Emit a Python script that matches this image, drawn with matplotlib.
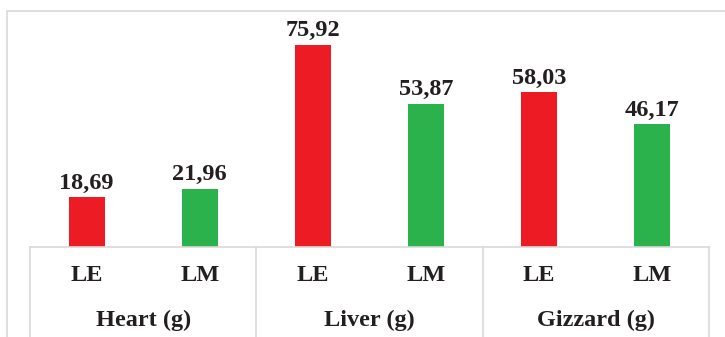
import matplotlib.pyplot as plt
from matplotlib.patches import Rectangle
from matplotlib.lines import Line2D

organs = ["Heart (g)", "Liver (g)", "Gizzard (g)"]
groups = ["LE", "LM"]
values = [18.69, 21.96, 75.92, 53.87, 58.03, 46.17]
colors = ["#ED1C24", "#2BB24C"]

plt.rcParams['font.family'] = ['Liberation Serif', 'DejaVu Serif']
text_color = "#231F20"
grid_color = "#D9D9D9"

fig = plt.figure(figsize=(7.25, 3.37), dpi=100)
ax = fig.add_axes([30 / 725, 1 - 247 / 337, (709 - 30) / 725, (247 - 34) / 337])

x = list(range(len(values)))
bar_colors = [colors[i % 2] for i in x]
bars = ax.bar(x, values, width=0.317, color=bar_colors)

for b, v in zip(bars, values):
    ax.annotate(f"{v:.2f}".replace(".", ","),
                (b.get_x() + b.get_width() / 2, b.get_height()),
                xytext=(0, 2.5), textcoords="offset points",
                ha="center", va="bottom", fontsize=17.5, fontweight="bold",
                color=text_color)

ax.set_xlim(-0.5, len(values) - 0.5)
ax.set_ylim(0, 80)
ax.set_yticks([])
ax.set_xticks(x)
ax.set_xticklabels([groups[i % 2] for i in x], fontsize=17.5, fontweight="bold",
                   color=text_color)
ax.tick_params(axis="x", length=0, pad=13)
for s in ["top", "left", "right"]:
    ax.spines[s].set_visible(False)
ax.spines["bottom"].set_color(grid_color)
ax.spines["bottom"].set_linewidth(1.2)

trans = ax.get_xaxis_transform()
for i, organ in enumerate(organs):
    ax.text(2 * i + 0.5, -0.345, organ, transform=trans, ha="center", va="center",
            fontsize=17.5, fontweight="bold", color=text_color)
for xs in [-0.5, 1.5, 3.5, 5.5]:
    ax.add_line(Line2D([xs, xs], [0, -0.6], transform=trans, color=grid_color,
                       lw=1.2, clip_on=False))

fig.add_artist(Rectangle((6.5 / 725, -0.1), 2, 1 - 11 / 337 + 0.1,
                         transform=fig.transFigure, fill=False,
                         edgecolor=grid_color, lw=1.2))

fig.savefig("out.png", dpi=100)
